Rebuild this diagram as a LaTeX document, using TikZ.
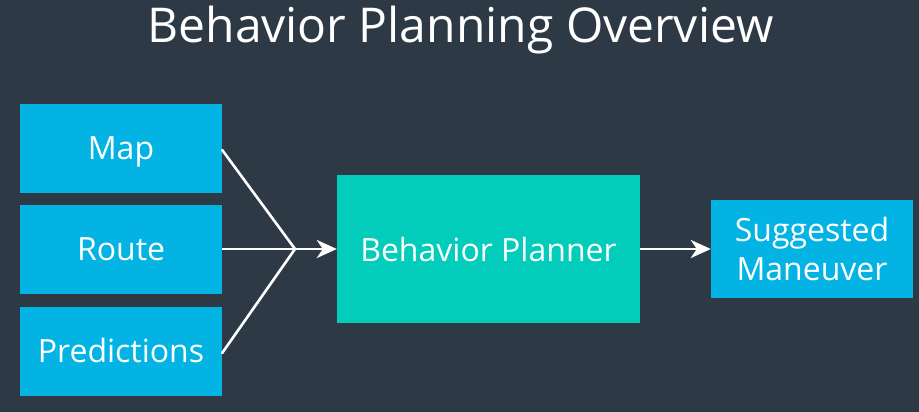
\documentclass[tikz,border=0pt]{standalone}
\usepackage{fontspec}
\setmainfont{Open Sans}
\usetikzlibrary{arrows.meta}
\definecolor{bg}{HTML}{2E3946}
\definecolor{ublue}{HTML}{02B3E4}
\definecolor{uteal}{HTML}{02CCBA}
\tikzset{
  inbox/.style={fill=ublue, draw=none, minimum width=202pt, minimum height=89pt, inner sep=0pt, text=white, font=\fontsize{32}{38}\selectfont, text height=22.8pt, text depth=0pt},
  conn/.style={draw=white, line width=2.6pt},
  arr/.style={conn, -{Stealth[length=20pt, width=18pt, inset=6pt]}},
}
\begin{document}
\begin{tikzpicture}[x=1pt, y=-1pt]
\fill[bg] (0,0) rectangle (919,412);
\useasboundingbox (0,0) rectangle (919,412);
\node[text=white, font=\fontsize{48}{56}\selectfont] (title) at (460.5,30) {Behavior Planning Overview};
\node[inbox] (map) at (121,148.5) {Map};
\node[inbox] (route) at (121,249) {Route};
\node[inbox] (pred) at (121,351.5) {Predictions};
\node[fill=uteal, minimum width=303pt, minimum height=148pt, inner sep=0pt, text=white, font=\fontsize{32}{38}\selectfont] (bp) at (488.5,249) {Behavior Planner};
\node[fill=ublue, minimum width=202pt, minimum height=98pt, inner sep=0pt, text=white, align=center, font=\fontsize{32}{39}\selectfont] (sm) at (812,249) {Suggested\\Maneuver};
\coordinate (merge) at (295,249);
\draw[conn, line cap=round] ([yshift=-1.5pt]map.east) -- (merge);
\draw[conn, line cap=round] ([yshift=-1.5pt]pred.east) -- (merge);
\draw[arr] (route.east) -- (merge) -- (bp.west);
\draw[arr] (bp.east) -- (sm.west);
\end{tikzpicture}
\end{document}
